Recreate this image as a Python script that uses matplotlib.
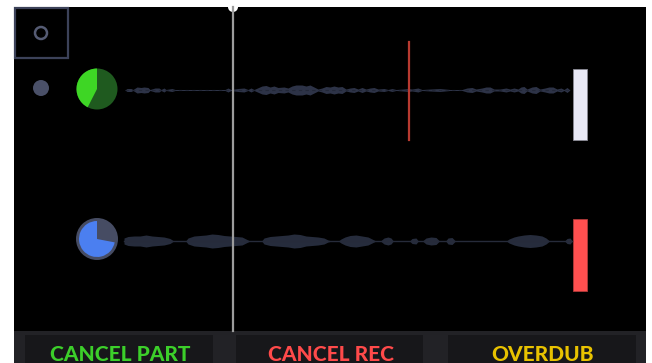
import matplotlib.pyplot as plt
import matplotlib.patches as mpatches

# Screen size in pixels
W, H = 652, 363

# Track 1 waveform envelope (x position, half amplitude in px)
wave1_x = [125, 127, 131, 133, 137, 141, 144, 148, 150, 155, 159, 161, 164, 166, 172, 175, 200, 225, 228, 231,
           238, 244, 248, 251, 254, 262, 266, 270, 274, 278, 284, 288, 292, 296, 302, 306, 310, 314, 318, 322,
           326, 330, 334, 338, 342, 346, 350, 354, 358, 362, 366, 370, 374, 378, 384, 388, 392, 396, 403, 408,
           412, 418, 422, 430, 440, 450, 462, 467, 472, 476, 482, 486, 490, 494, 500, 506, 510, 514, 518, 521,
           524, 527, 532, 536, 540, 545, 549, 553, 557, 561, 564, 567, 570]
wave1_amp = [0, 1.5, 1.5, 0.5, 3, 2.5, 3, 2.5, 0.5, 2, 2, 0.5, 2, 0.5, 1.5, 0.5, 0.5, 0.5, 2, 0.5,
             1.5, 2, 0.5, 2, 0.5, 4, 4.5, 3, 4, 2.5, 3, 2, 4, 5, 5, 4, 5, 3, 1, 2,
             3.5, 3, 4, 3, 3.5, 1, 2, 2.5, 1, 2.5, 1, 2, 2.5, 1, 1.5, 0.5, 1.5, 0.5, 1, 1.5,
             1, 2, 0.5, 1, 1.5, 0.5, 0.5, 2, 2.5, 1, 2, 3, 3, 1, 1, 2, 1, 2, 1, 3,
             3.5, 1, 3, 3.5, 1, 2, 3, 3, 1, 2, 0.5, 2.5, 0]

# Track 2 waveform envelope
wave2_x = [124, 128, 134, 140, 146, 152, 158, 164, 170, 173, 186, 188, 194, 200, 206, 212, 218, 224, 230, 236,
           242, 247, 249, 262, 264, 270, 276, 282, 288, 294, 300, 306, 312, 318, 324, 328, 330, 339, 341, 345,
           350, 356, 362, 368, 373, 375, 381, 384, 388, 391, 393, 410, 412, 416, 418, 423, 426, 431, 436, 439,
           446, 448, 452, 455, 507, 509, 514, 518, 524, 530, 536, 542, 546, 549, 565, 567, 570, 572]
wave2_amp = [3, 4.5, 5, 5, 6, 5, 4.5, 4, 2.5, 0.5, 0.5, 3, 5, 5.5, 6, 7, 6.5, 5.5, 5, 4.5,
             4, 1.5, 0.5, 0.5, 3, 4.5, 5, 5.5, 6, 7, 6.5, 5, 4.5, 4, 3, 1, 0.5, 0.5, 2, 4,
             5.5, 6, 5, 4, 1.5, 0.5, 0.5, 3, 4, 3, 0.5, 0.5, 2.5, 3, 0.5, 0.5, 3, 4, 3.5, 0.5,
             0.5, 3, 3.5, 0.5, 0.5, 2, 4, 5, 6, 6.5, 6, 5, 3, 0.5, 0.5, 2.5, 3, 0.5]

# Loop progress of each track (fraction of the circle)
progress = [0.425, 0.72]

buttons = ["CANCEL PART", "CANCEL REC", "OVERDUB"]
button_colors = ["#3ccf2a", "#ff4a4a", "#e8c200"]

fig = plt.figure(figsize=(W / 100, H / 100), dpi=100, facecolor="white")
ax = fig.add_axes([0, 0, 1, 1])
ax.set_xlim(0, W)
ax.set_ylim(H, 0)
ax.axis("off")

# Background panels
ax.add_patch(mpatches.Rectangle((14, 7), 632, 324, color="black", lw=0))
ax.add_patch(mpatches.Rectangle((14, 331), 632, 32, color="#222226", lw=0))
for i, (x0, x1) in enumerate([(25, 213), (236, 423), (448, 636)]):
    ax.add_patch(mpatches.Rectangle((x0, 335), x1 - x0, 28, color="#17171a", lw=0))
    ax.text((x0 + x1) / 2 + 1, 361, buttons[i], color=button_colors[i], ha="center", va="baseline",
            fontsize=15, fontweight="black", family="Lato")

# Top-left record box and dot
ax.add_patch(mpatches.Rectangle((15, 8), 53, 50, fill=False, ec="#3c4259", lw=1.6))
ax.add_patch(mpatches.Circle((41, 33), 6, fill=False, ec="#555b73", lw=1.8))
ax.add_patch(mpatches.Circle((41, 88), 8, color="#4a5068", lw=0))

# Waveforms
ax.plot([125, 570], [90, 90], color="#232838", lw=0.8, ls=(0, (3, 3)))
ax.fill_between(wave1_x, [90 - a for a in wave1_amp], [90 + a for a in wave1_amp], color="#2d3347", lw=0)
ax.plot([124, 572], [241, 241], color="#262b3a", lw=1)
ax.fill_between(wave2_x, [241 - a for a in wave2_amp], [241 + a for a in wave2_amp], color="#262c3c", lw=0)

# Track 1 pie (green)
f = progress[0] * 360
ax.add_patch(mpatches.Circle((97, 89), 20.5, color="#1f5a1f", lw=0))
ax.add_patch(mpatches.Wedge((97, 89), 20.5, -90 - f, -90, color="#3ed625", lw=0))

# Track 2 pie (blue)
f = progress[1] * 360
ax.add_patch(mpatches.Circle((97, 239), 21, color="#464c63", lw=0))
ax.add_patch(mpatches.Wedge((97, 239), 18, -90 - f, -90, color="#4b7ff0", lw=0))

# Playhead
ax.plot([233, 233], [7, 331], color="#9c9c9c", lw=1.6)
ax.add_patch(mpatches.Circle((233, 7), 5, color="white", lw=0))

# Red marker and track end bars
ax.plot([409, 409], [42, 140], color="#b83a30", lw=1.6)
ax.add_patch(mpatches.Rectangle((573, 69), 14, 71, fc="#e8e8f5", ec="#8a8a95", lw=0.6))
ax.add_patch(mpatches.Rectangle((573, 219), 14, 72, fc="#ff4f4f", ec="#b03a3a", lw=0.6))

fig.savefig("out.png", dpi=100, facecolor="white")
